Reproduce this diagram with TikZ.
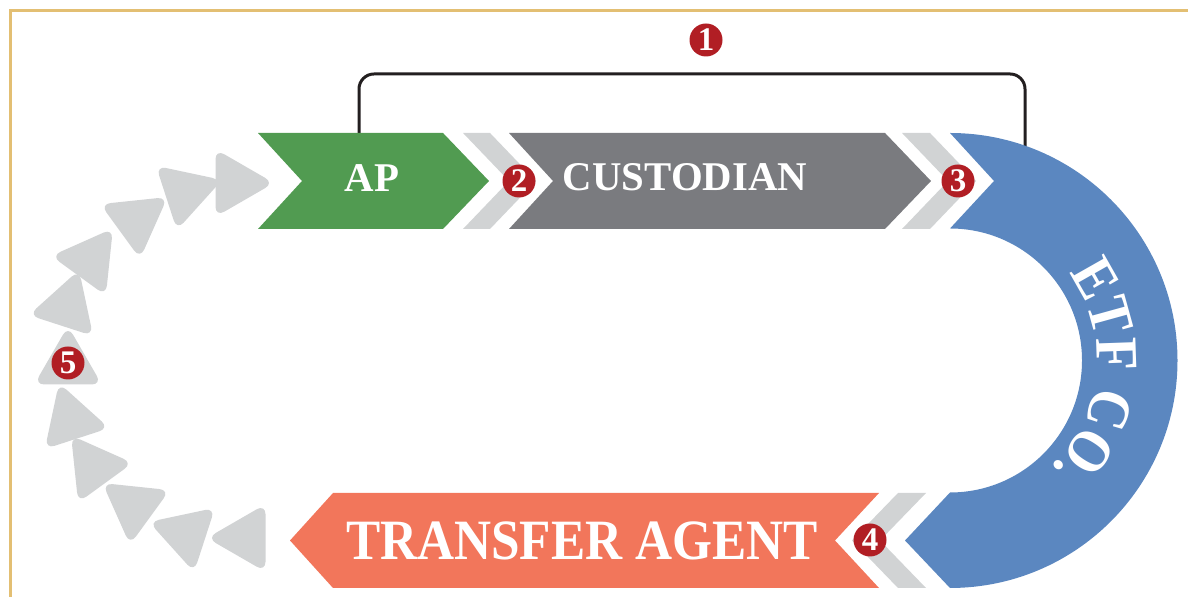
\documentclass[tikz,border=0pt]{standalone}
\usepackage{fontspec}
\setmainfont{Liberation Serif}
\newfontfamily\narrowserif[FakeStretch=0.9]{Liberation Serif}
\usetikzlibrary{shapes.geometric,decorations.text}
\definecolor{gold}{HTML}{E3BF73}
\definecolor{apgreen}{HTML}{519B51}
\definecolor{custgray}{HTML}{7A7B7F}
\definecolor{chevgray}{HTML}{D1D3D4}
\definecolor{etfblue}{HTML}{5B87C0}
\definecolor{taorange}{HTML}{F2765B}
\definecolor{badgered}{HTML}{B11E24}
\definecolor{bracketblack}{HTML}{231F20}
\begin{document}
\begin{tikzpicture}[x=0.5pt,y=0.5pt,
  badge/.style={circle, fill=badgered, text=white, minimum size=16.5pt, inner sep=0pt,
    font=\bfseries\fontsize{16.5}{16.5}\selectfont},
  tri/.style={regular polygon, regular polygon sides=3, fill=chevgray, minimum size=39pt,
    inner sep=0pt, rounded corners=5pt},
  lbl/.style={text=white, inner sep=0pt, font=\bfseries\fontsize{20.4}{20.4}\selectfont},
  biglbl/.style={text=white, inner sep=0pt, font=\narrowserif\bfseries\fontsize{28.5}{28.5}\selectfont}
]
\useasboundingbox (0,0) rectangle (1188,597);
% border
\draw[gold, line width=1.6pt] (10.5,0) -- (10.5,586.5) -- (1188,586.5);
% bracket
\coordinate (bl) at (359,464);
\coordinate (br) at (1025,440);
\draw[bracketblack, line width=1.5pt, rounded corners=7.5pt] (bl) -- (359,523) -- (1025,523) -- (br);
% AP
\fill[apgreen] (258,464) -- (443,464) -- (489,416) -- (443,368) -- (258,368) -- (302,416) -- cycle;
% chevron 2
\fill[chevgray] (463,464) -- (490,464) -- (536,416) -- (490,368) -- (463,368) -- (509,416) -- cycle;
% custodian
\fill[custgray] (509,464) -- (885,464) -- (931,416) -- (885,368) -- (509,368) -- (553,416) -- cycle;
% chevron 3
\fill[chevgray] (902,464) -- (930,464) -- (976,416) -- (930,368) -- (902,368) -- (948,416) -- cycle;
% ETF arc
\coordinate (etfc) at (950,236.5);
\fill[etfblue] (950,464) arc[start angle=90, end angle=-90, radius=227.5]
  -- (905,56.5) -- (950,104.5) arc[start angle=-90, end angle=90, radius=132]
  -- (994,416) -- cycle;
% chevron 4
\fill[chevgray] (898,104) -- (926,104) -- (880,56.5) -- (926,9) -- (898,9) -- (852,56.5) -- cycle;
% transfer agent
\fill[taorange] (879,104) -- (333,104) -- (290,56.5) -- (333,9) -- (879,9) -- (835,56.5) -- cycle;
% labels
\node[lbl] (ap) at (372,419) {AP};
\node[lbl] (cust) at (685,420) {CUSTODIAN};
\node[biglbl] (ta) at (582,56) {TRANSFER AGENT};
\path[decorate, decoration={text along path, text align=center, text color=white,
  text={|\narrowserif\bfseries\fontsize{30}{30}\selectfont|ETF CO.}}]
  (etfc) ++(36:147) arc[start angle=36, end angle=-46, radius=147];
% triangles
\node[tri, rotate=90]  (t1)  at (246,59)  {};
\node[tri, rotate=72]  (t2)  at (186,63)  {};
\node[tri, rotate=54]  (t3)  at (134,91)  {};
\node[tri, rotate=36]  (t4)  at (94,130)  {};
\node[tri, rotate=18]  (t5)  at (71,177)  {};
\node[tri, rotate=0]   (t6)  at (68,232)  {};
\node[tri, rotate=-18] (t7)  at (67,290)  {};
\node[tri, rotate=-36] (t8)  at (90,337)  {};
\node[tri, rotate=-54] (t9)  at (136,377) {};
\node[tri, rotate=-72] (t10) at (185,405) {};
\node[tri, rotate=-90] (t11) at (235,414) {};
% badges
\node[badge] (b1) at (706,557) {1};
\node[badge] (b2) at (519,416) {2};
\node[badge] (b3) at (958,416) {3};
\node[badge] (b4) at (870,57) {4};
\node[badge] (b5) at (68,234) {5};
\end{tikzpicture}
\end{document}
